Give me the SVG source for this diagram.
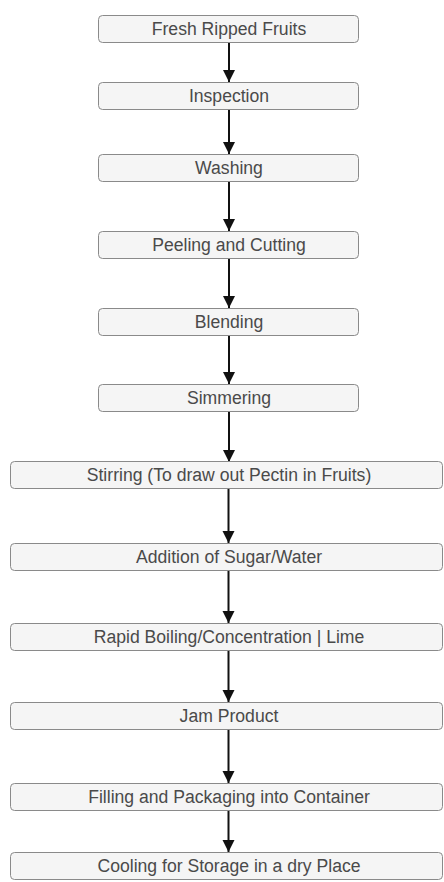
<svg xmlns="http://www.w3.org/2000/svg" width="444" height="882" viewBox="0 0 444 882">
<style>
.box{fill:#f5f5f5;stroke:#8a8a8a;stroke-width:1}
.lbl{font-family:"Liberation Sans",Arial,sans-serif;font-size:17.6px;fill:#4a4a4a;text-anchor:middle}
.edge{stroke:#111;stroke-width:2;fill:none;marker-end:url(#ah)}
</style>
<defs>
<marker id="ah" markerUnits="userSpaceOnUse" markerWidth="12" markerHeight="13" viewBox="0 0 12 13" refX="12" refY="6.5" orient="auto">
<path d="M0,0.5 L12,6.5 L0,12.5 Z" fill="#111"/>
</marker>
</defs>
<rect width="444" height="882" fill="#fff"/>
<g id="connectors">
<line class="edge" x1="229" y1="42" x2="229" y2="82"/>
<line class="edge" x1="229" y1="109" x2="229" y2="154"/>
<line class="edge" x1="229" y1="182" x2="229" y2="231"/>
<line class="edge" x1="229" y1="258" x2="229" y2="308"/>
<line class="edge" x1="229" y1="336" x2="229" y2="384"/>
<line class="edge" x1="229" y1="411" x2="229" y2="462"/>
<line class="edge" x1="228.5" y1="488" x2="228.5" y2="543"/>
<line class="edge" x1="228.5" y1="570" x2="228.5" y2="623"/>
<line class="edge" x1="228.5" y1="651" x2="228.5" y2="702"/>
<line class="edge" x1="228.5" y1="729" x2="228.5" y2="783"/>
<line class="edge" x1="228.5" y1="810" x2="228.5" y2="852"/>
</g>
<g id="n1"><rect class="box" x="98.5" y="15.5" width="260" height="27" rx="4"/><text class="lbl" x="229" y="34.5">Fresh Ripped Fruits</text></g>
<g id="n2"><rect class="box" x="98.5" y="82.5" width="260" height="27" rx="4"/><text class="lbl" x="229" y="101.5">Inspection</text></g>
<g id="n3"><rect class="box" x="98.5" y="154.5" width="260" height="27" rx="4"/><text class="lbl" x="229" y="173.5">Washing</text></g>
<g id="n4"><rect class="box" x="98.5" y="231.5" width="260" height="27" rx="4"/><text class="lbl" x="229" y="250.5">Peeling and Cutting</text></g>
<g id="n5"><rect class="box" x="98.5" y="308.5" width="260" height="27" rx="4"/><text class="lbl" x="229" y="327.5">Blending</text></g>
<g id="n6"><rect class="box" x="98.5" y="384.5" width="260" height="27" rx="4"/><text class="lbl" x="229" y="403.5">Simmering</text></g>
<g id="n7"><rect class="box" x="10.5" y="461.5" width="432" height="27" rx="4"/><text class="lbl" x="229" y="480.5">Stirring (To draw out Pectin in Fruits)</text></g>
<g id="n8"><rect class="box" x="10.5" y="543.5" width="432" height="27" rx="4"/><text class="lbl" x="229" y="562.5">Addition of Sugar/Water</text></g>
<g id="n9"><rect class="box" x="10.5" y="623.5" width="432" height="27" rx="4"/><text class="lbl" x="229" y="642.5">Rapid Boiling/Concentration | Lime</text></g>
<g id="n10"><rect class="box" x="10.5" y="702.5" width="432" height="27" rx="4"/><text class="lbl" x="229" y="721.5">Jam Product</text></g>
<g id="n11"><rect class="box" x="10.5" y="783.5" width="432" height="27" rx="4"/><text class="lbl" x="229" y="802.5">Filling and Packaging into Container</text></g>
<g id="n12"><rect class="box" x="10.5" y="852.5" width="432" height="27" rx="4"/><text class="lbl" x="229" y="871.5">Cooling for Storage in a dry Place</text></g>
</svg>
